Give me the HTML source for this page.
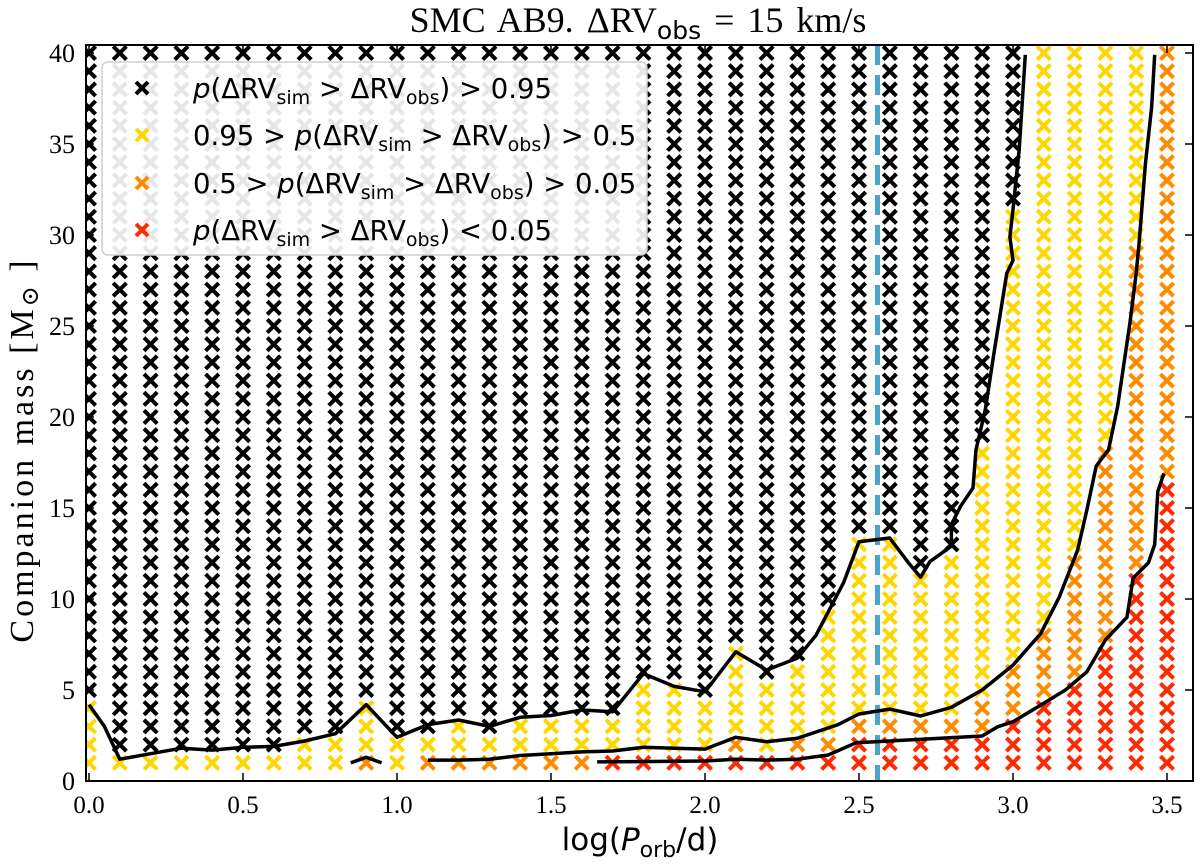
<!DOCTYPE html>
<html><head><meta charset="utf-8"><style>
html,body{margin:0;padding:0;background:#fff;width:1200px;height:867px;overflow:hidden}
svg text{fill:#000}
.serif{font-family:"Liberation Serif","DejaVu Serif",serif}
.sans{font-family:"DejaVu Sans","Liberation Sans",sans-serif}
</style></head><body>
<svg id="chart" width="1200" height="867" viewBox="0 0 1200 867" xmlns="http://www.w3.org/2000/svg">
<defs><clipPath id="plotclip"><rect x="86" y="45" width="1107" height="736"/></clipPath></defs>
<text class="serif" x="638" y="32" font-size="36" text-anchor="middle" word-spacing="4">SMC AB9. ΔRV<tspan class="sans" font-size="25" dy="7">obs</tspan><tspan dy="-7"> = 15 km/s</tspan></text>
<g id="marks" clip-path="url(#plotclip)"></g>
<g id="lines" clip-path="url(#plotclip)"></g>
<g id="axes"></g>
<g id="legend">
<rect x="102" y="62" width="545" height="193" rx="6" fill="rgba(255,255,255,0.9)" stroke="#cfcfcf" stroke-width="1.5"/>
</g>
<text class="sans" x="640" y="850" font-size="31" text-anchor="middle">log(<tspan font-style="italic">P</tspan><tspan font-size="22" dy="7">orb</tspan><tspan dy="-7">/d)</tspan></text>
<text class="serif" transform="translate(33,450) rotate(-90)" font-size="34" letter-spacing="3" text-anchor="middle">Companion mass [M<tspan font-size="24" dy="5">⊙</tspan><tspan dy="-5"> ]</tspan></text>
</svg>
<script>
const columns = [0,0.1,0.2,0.3,0.4,0.5,0.6,0.7,0.8,0.9,1.0,1.1,1.2,1.3,1.4,1.5,1.6,1.7,1.8,1.9,2.0,2.1,2.2,2.3,2.4,2.5,2.6,2.7,2.8,2.9,3.0,3.1,3.2,3.3,3.4,3.5];
const blackFrom  = [5,2,2,2,2,2,2,3,3,5,3,3,4,3,4,4,4,4,6,6,5,8,6,7,10,14,14,12,13,19,32,41,41,41,41,41];
const yellowFrom = [1,1,1,1,1,1,1,1,1,2,1,2,2,2,2,2,2,2,2,2,2,3,2,3,3,4,4,4,4,5,7,9,13,19,30,41];
const orangeFrom = [1,1,1,1,1,1,1,1,1,1,1,1,1,1,1,1,1,2,2,2,2,2,2,2,2,3,3,3,3,3,4,5,6,8,12,17];
const masses = [1,2,3,4,5,6,7,8,9,10,11,12,13,14,15,16,17,18,19,20,21,22,23,24,25,26,27,28,29,30,31,32,33,34,35,36,37,38,39,40];
const line1X = [0,0.05,0.1,0.2,0.3,0.4,0.5,0.6,0.7,0.8,0.9,1.0,1.1,1.2,1.3,1.4,1.5,1.6,1.7,1.8,1.9,2.0,2.1,2.2,2.3,2.36,2.45,2.5,2.6,2.66,2.7,2.73,2.8,2.8,2.83,2.87,2.88,2.91,2.94,2.98,3.0,2.99,3.0,3.02,3.04];
const line1Y = [4.2,3.0,1.2,1.5,1.8,1.7,1.85,1.9,2.2,2.6,4.2,2.4,3.1,3.35,3.0,3.5,3.6,3.9,3.8,5.9,5.2,4.9,7.1,6.1,6.75,8.0,10.9,13.15,13.35,12.0,11.2,12.05,12.9,14.1,15.1,16.1,18.2,20.4,23.7,27.9,28.6,29.9,31.4,34.7,39.9];
const line2X = [1.1,1.2,1.3,1.4,1.5,1.6,1.7,1.8,1.9,2.0,2.1,2.2,2.3,2.43,2.5,2.6,2.7,2.8,2.9,3.0,3.09,3.15,3.21,3.24,3.27,3.31,3.34,3.38,3.40,3.41,3.43,3.45,3.46];
const line2Y = [1.15,1.15,1.2,1.4,1.5,1.6,1.65,1.85,1.8,1.75,2.4,2.16,2.35,3.08,3.68,3.95,3.57,4.05,5.0,6.37,8.1,10.1,12.7,14.9,17.3,18.2,20.6,25.2,27.9,29.7,33.9,37,39.9];
const line3X = [1.65,2.0,2.1,2.2,2.3,2.4,2.49,2.9,2.95,3.0,3.09,3.17,3.24,3.30,3.37,3.39,3.44,3.46,3.47,3.49];
const line3Y = [1.05,1.1,1.2,1.15,1.2,1.43,2.1,2.47,2.98,3.26,4.17,5.0,6.0,7.75,9.0,11.15,12.0,13.0,15.9,16.9];
const caretX = [0.85,0.9,0.95];
const caretY = [1.0,1.3,1.0];
const obsPeriod = 2.56;
const xTicks = [0,0.5,1.0,1.5,2.0,2.5,3.0,3.5];
const xTickLabels = ["0.0","0.5","1.0","1.5","2.0","2.5","3.0","3.5"];
const yTicks = [0,5,10,15,20,25,30,35,40];
const yTickLabels = ["0","5","10","15","20","25","30","35","40"];
const legendLabels = ["black","yellow","orange","red"];

const NS="http://www.w3.org/2000/svg";
const X = v => 89 + v*308;
const Y = m => 781 - m*18.2;
const COL = {black:"#000000",yellow:"#ffd700",orange:"#ff8c00",red:"#ff2a00"};
function mk(tag, attrs, parent){const e=document.createElementNS(NS,tag);for(const k in attrs)e.setAttribute(k,attrs[k]);parent.appendChild(e);return e;}
function cross(cx,cy,color,parent,s){
  s=s||5.2;
  return mk('path',{d:`M${cx-s},${cy-s}L${cx+s},${cy+s}M${cx-s},${cy+s}L${cx+s},${cy-s}`,stroke:color,'stroke-width':4,'stroke-linecap':'square',fill:'none'},parent);
}
const marks=document.getElementById('marks');
columns.forEach((x,i)=>{
  masses.forEach(m=>{
    let c='red';
    if(m>=blackFrom[i]) c='black'; else if(m>=yellowFrom[i]) c='yellow'; else if(m>=orangeFrom[i]) c='orange';
    const p=cross(X(x),Y(m),COL[c],marks);
    
    
  });
});
const lines=document.getElementById('lines');
const dl=mk('line',{x1:X(obsPeriod),x2:X(obsPeriod),y1:45,y2:781,stroke:'#4aa5c9','stroke-width':5,'stroke-dasharray':'20,10'},lines);


function poly(xs,ys,name){
  const pts=xs.map((x,i)=>X(x).toFixed(1)+','+Y(ys[i]).toFixed(1)).join(' ');
  const p=mk('polyline',{points:pts,fill:'none',stroke:'#000','stroke-width':3.5,'stroke-linejoin':'round'},lines);
  
  
}
poly(line1X,line1Y,'contour-095');
poly(line2X,line2Y,'contour-05');
poly(line3X,line3Y,'contour-005');
poly(caretX,caretY,'contour-05-fragment');

const axes=document.getElementById('axes');
const fr=mk('rect',{x:86,y:45,width:1107,height:736,fill:'none',stroke:'#000','stroke-width':2},axes);


xTicks.forEach((v,i)=>{
  mk('line',{x1:X(v),x2:X(v),y1:781,y2:773,stroke:'#000','stroke-width':1.5},axes);
  mk('line',{x1:X(v),x2:X(v),y1:45,y2:53,stroke:'#000','stroke-width':1.5},axes);
  const t=mk('text',{x:X(v),y:813,'font-size':25,'text-anchor':'middle','class':'serif'},axes);
  t.textContent=xTickLabels[i];
  
  
});
yTicks.forEach((v,i)=>{
  mk('line',{x1:86,x2:94,y1:Y(v),y2:Y(v),stroke:'#000','stroke-width':1.5},axes);
  mk('line',{x1:1193,x2:1185,y1:Y(v),y2:Y(v),stroke:'#000','stroke-width':1.5},axes);
  const t=mk('text',{x:75,y:Y(v)+9,'font-size':26,'text-anchor':'end','class':'serif'},axes);
  t.textContent=yTickLabels[i];
  
  
});

const legend=document.getElementById('legend');
const lt=[
 ['', 'p', '(ΔRV', 'sim', ' > ΔRV', 'obs', ') > 0.95'],
 ['0.95 > ', 'p', '(ΔRV', 'sim', ' > ΔRV', 'obs', ') > 0.5'],
 ['0.5 > ', 'p', '(ΔRV', 'sim', ' > ΔRV', 'obs', ') > 0.05'],
 ['', 'p', '(ΔRV', 'sim', ' > ΔRV', 'obs', ') < 0.05']];
const legendRowY=[88,135,183,230];
legendLabels.forEach((c,i)=>{
  const y=legendRowY[i];
  const m=cross(142,y,COL[c],legend,4.6);
  
  
  const t=mk('text',{x:193,y:y+10,'font-size':27.5,'class':'sans'},legend);
  
  
  const s=lt[i];
  t.innerHTML=`${s[0]}<tspan font-style="italic">p</tspan>${s[2]}<tspan font-size="19" dy="6">${s[3]}</tspan><tspan dy="-6">${s[4]}</tspan><tspan font-size="19" dy="6">${s[5]}</tspan><tspan dy="-6">${s[6]}</tspan>`;
});
</script>
</body></html>
